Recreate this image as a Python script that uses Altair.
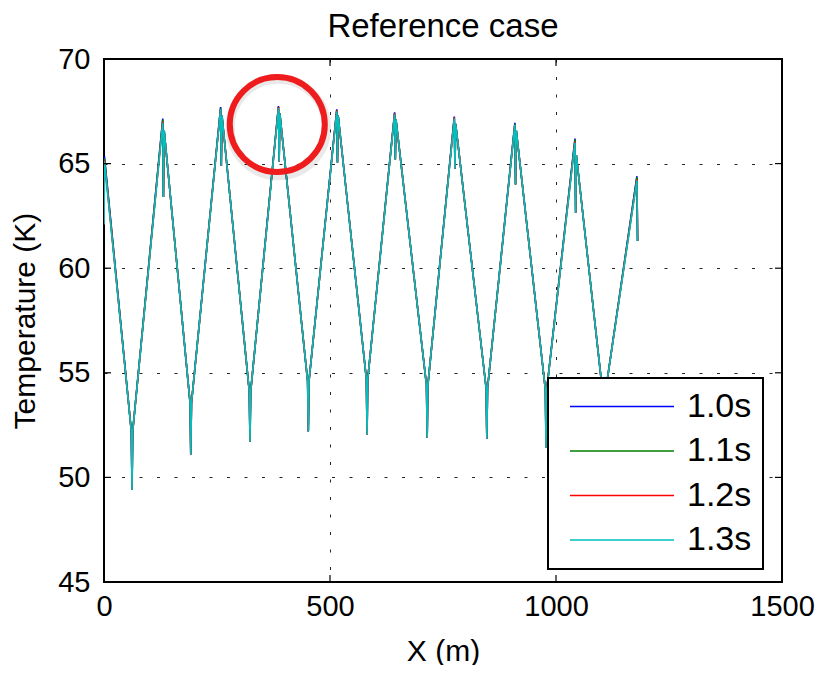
import altair as alt
import pandas as pd

# ---------------- data ----------------
series_names = ["1.0s", "1.1s", "1.2s", "1.3s"]
series_colors = ["#0000ff", "#008000", "#ff0000", "#00bfbf"]
series_widths = [1.6, 1.6, 1.6, 2.0]

peak_x = [0, 130, 258, 386, 515, 643, 775, 909, 1042, 1179]
peak_T = {
    "1.0s": [65.35, 67.15, 67.70, 67.75, 67.60, 67.45, 67.25, 66.95, 66.20, 64.40],
    "1.1s": [65.25, 67.10, 67.65, 67.70, 67.55, 67.40, 67.20, 66.90, 66.15, 64.35],
    "1.2s": [65.15, 67.00, 67.60, 67.70, 67.55, 67.40, 67.20, 66.85, 66.05, 64.25],
    "1.3s": [65.10, 66.95, 67.60, 67.65, 67.50, 67.35, 67.15, 66.85, 66.00, 64.20],
}
peak_dip_T = [62.1, 63.4, 64.9, 65.1, 65.05, 65.2, 64.75, 64.0, 62.65, 61.3]
peak_after_T = [65.0, 66.6, 67.3, 67.4, 67.3, 67.1, 66.9, 66.6, 65.4, 61.3]

valley_x = [62, 192, 323, 452, 582, 715, 847, 978, 1106]
valley_T = [52.2, 53.55, 54.1, 54.6, 54.7, 54.4, 54.25, 54.2, 53.8]
valley_dip_T = [49.4, 51.1, 51.7, 52.2, 52.05, 51.9, 51.85, 51.4, 51.0]

x_ticks = [0, 500, 1000, 1500]
y_ticks = [45, 50, 55, 60, 65, 70]

circle_x = [383.4]
circle_T = [66.87]

# ---------------- build the line table ----------------
rows = []
for s in series_names:
    pts = []
    pk = peak_T[s]
    pts.append((0.0, peak_dip_T[0]))
    pts.append((1.0, pk[0]))
    for i in range(len(valley_x)):
        xv = valley_x[i]
        pts.append((xv - 1.5, valley_T[i]))
        pts.append((xv, valley_dip_T[i]))
        pts.append((xv + 1.5, valley_T[i]))
        j = i + 1
        xp = peak_x[j]
        pts.append((xp, pk[j]))
        pts.append((xp + 1.5, peak_dip_T[j]))
        if j < len(peak_x) - 1:
            pts.append((xp + 3.0, peak_after_T[j]))
    for k, (xx, tt) in enumerate(pts):
        rows.append({"series": s, "x": xx, "T": tt, "idx": k})
df = pd.DataFrame(rows)

FONT = "Liberation Sans"
W, H = 678, 523

xscale = alt.Scale(domain=[0, 1500], nice=False, zero=False)
yscale = alt.Scale(domain=[45, 70], nice=False, zero=False)
xaxis = alt.Axis(values=x_ticks, title="X (m)", format="d", labelFlush=False,
                 labelPadding=10, titlePadding=15)
yaxis = alt.Axis(values=y_ticks, title="Temperature (K)", format="d", labelFlush=False,
                 labelPadding=14, titlePadding=17)
X = alt.X("x:Q", scale=xscale, axis=xaxis)
Y = alt.Y("T:Q", scale=yscale, axis=yaxis)

lines = alt.Chart(df).mark_line(clip=True).encode(
    x=X, y=Y,
    color=alt.Color("series:N",
                    scale=alt.Scale(domain=series_names, range=series_colors),
                    legend=alt.Legend(title=None, orient="none",
                                      legendX=444, legendY=319,
                                      symbolType="M-3.467,0H3.467",
                                      symbolSize=900,
                                      symbolStrokeWidth=2,
                                      symbolOffset=45.5,
                                      labelFontSize=34, labelFont=FONT,
                                      labelColor="black", labelOffset=48,
                                      rowPadding=10.5)),
    strokeWidth=alt.StrokeWidth("series:N",
                                scale=alt.Scale(domain=series_names, range=series_widths),
                                legend=None),
    order=alt.Order("idx:Q"),
)

circ_df = pd.DataFrame({"x": circle_x, "T": circle_T})
shadow = alt.Chart(circ_df).mark_point(
    shape="circle", size=9300, filled=False, color="#000000",
    strokeWidth=9, strokeOpacity=0.12, xOffset=1, yOffset=3,
).encode(x=X, y=Y)
circle = alt.Chart(circ_df).mark_point(
    shape="circle", size=9025, filled=False, color="#ee1c1c",
    strokeWidth=6, opacity=1,
).encode(x=X, y=Y)

xt_df = pd.DataFrame({"x": x_ticks})
yt_df = pd.DataFrame({"T": y_ticks})
tick_style = dict(color="black", strokeWidth=1.2)
xt_bottom = alt.Chart(xt_df).mark_rule(**tick_style).encode(
    x=X, y=alt.value(H), y2=alt.value(H - 7))
xt_top = alt.Chart(xt_df).mark_rule(**tick_style).encode(
    x=X, y=alt.value(0), y2=alt.value(7))
yt_left = alt.Chart(yt_df).mark_rule(**tick_style).encode(
    y=Y, x=alt.value(0), x2=alt.value(7))
yt_right = alt.Chart(yt_df).mark_rule(**tick_style).encode(
    y=Y, x=alt.value(W), x2=alt.value(W - 7))

chart = alt.layer(lines, shadow, circle, xt_bottom, xt_top, yt_left, yt_right).properties(
    width=W, height=H,
    title=alt.TitleParams("Reference case", fontSize=33, font=FONT,
                          fontWeight="normal", color="black", offset=1),
    autosize=alt.AutoSizeParams(type="none"),
    padding={"left": 96, "top": 51, "right": 37, "bottom": 83},
).configure_view(
    stroke="black", strokeWidth=2
).configure_axis(
    labelFont=FONT, titleFont=FONT, labelFontSize=29, titleFontSize=30,
    labelColor="black", titleColor="black", titleFontWeight="normal",
    domain=False, ticks=False,
    grid=True, gridColor="black", gridDash=[3, 14.5], gridWidth=1, gridOpacity=0.85,
).configure_legend(
    strokeColor="black", strokeWidth=2, fillColor="white", padding=11.5,
)

chart.save("out.html", embed_options={"renderer": "svg", "actions": False})
